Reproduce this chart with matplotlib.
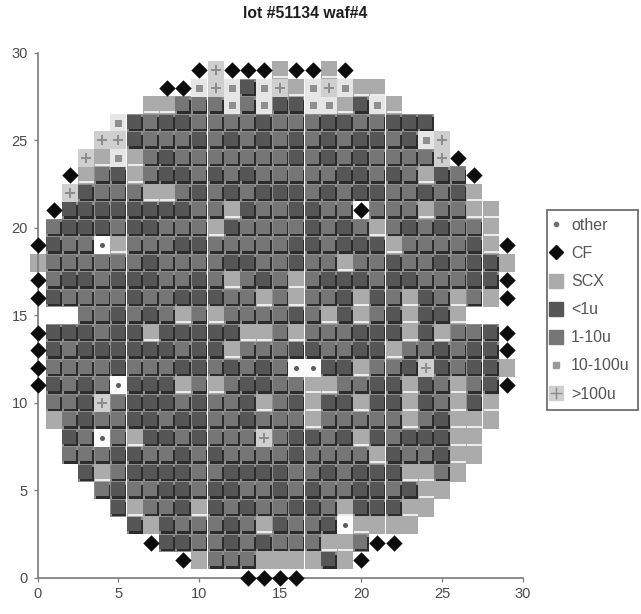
import matplotlib
matplotlib.use("Agg")
import matplotlib.pyplot as plt
from matplotlib.lines import Line2D
from matplotlib.path import Path
from matplotlib.legend_handler import HandlerTuple
from matplotlib.transforms import ScaledTranslation

plt.rcParams['font.family'] = ['Liberation Sans', 'DejaVu Sans']

title = "lot #51134 waf#4"
x_ticks = [0, 5, 10, 15, 20, 25, 30]
y_ticks = [0, 5, 10, 15, 20, 25, 30]
legend_labels = ["other", "CF", "SCX", "<1u", "1-10u", "10-100u", ">100u"]

# wafer map: row y -> first die column, die classes
# o other, D CF, S SCX, L <1u, M 1-10u, X 10-100u, P >100u, Q other+CF
wafer_rows = {
    29: (10, "DPDDDSDDSD"),
    28: (8, "DDXPXLXPSXPXSS"),
    27: (7, "SSMMMXMXLLXXSLXS"),
    26: (5, "XLMLLMMMMLMMMLLMMLLL"),
    25: (4, "PPLMMMLMLMLMLMLMLLMLXP"),
    24: (3, "PSXSMLMMMMMMMLMLMLMMMMPD"),
    23: (2, "DSMLSMLLMLMLMMMMMLLMLMSLMD"),
    22: (2, "PLMMMSSMLMLMLLLMLMLLMMLMLS"),
    21: (1, "DLLLLLLLLMMSLMMLLMMQMMMSMMSS"),
    20: (1, "MLLLMLLMMMSLMMMMLMLMSMLMLMMS"),
    19: (0, "DLMMoSMMMLLMMMMMLLMLLLSMMMMLSD"),
    18: (0, "SMMMMMMLMMMMLLMMLMMSMMLMMLMLLS"),
    17: (0, "DMLLMLLLMMLMSMLMSMLLLMLLMMMLLD"),
    16: (0, "DLMMMMLMMLLLMMSMSMMLSLMSLMSMSD"),
    15: (3, "MMLMLMSMSMMMMLMSLSMLSLLS"),
    14: (0, "DLLLMLLSLLLLLSSMSMMMLLLSLSMMLD"),
    13: (0, "DLMLLLLLLMLLSMMMLLMMLLSMMLMLLD"),
    12: (0, "DMMMMLMMMLLMLMLMooLLSMMLPLMLLS"),
    11: (0, "DLMLMoLLLSMSMLLMMSSMMLLSLMSMLD"),
    10: (1, "MMLPMLLLMLMMLSMLSLLSLLSLMSLS"),
    9: (1, "SMLMMLLMLLMMLMMMSMMMMMSMLSSS"),
    8: (2, "LMoMSLLMLMMMPMLLMLSLMLLLSS"),
    7: (2, "MMMLLMMLMLMMMMLMMMMSLMMLSS"),
    6: (3, "LSMLLLLMMLLLLMMLMLLLSSMS"),
    5: (4, "MLMMLLMLLMMLMLMMLLMLSS"),
    4: (5, "LSMMLSLMLMMLLMSLLLSS"),
    3: (6, "LSLMMMLMSLMMLoSSSS"),
    2: (7, "DLLMMLMLMMMSSMDD"),
    1: (9, "DSMMMSSSSLSD"),
    0: (13, "DDDD"),
}

cells = {}
for row, (first, codes) in wafer_rows.items():
    for i, c in enumerate(codes):
        cells[(first + i, row)] = c


def pts(*kinds):
    p = [k for k, c in cells.items() if c in kinds]
    return [a for a, _ in p], [b for _, b in p]


DPI = 100
fig = plt.figure(figsize=(6.41, 6.14), dpi=DPI)
ax = fig.add_axes([37.5 / 641, (614 - 577.7) / 614, 485.5 / 641, 525 / 614])
ax.set_xlim(0, 30)
ax.set_ylim(0, 30)


def shifted(dx, dy):
    return ax.transData + ScaledTranslation(dx / DPI, dy / DPI, fig.dpi_scale_trans)


def s_of(px):
    return (px * 72 / DPI) ** 2


CELL_W, CELL_H = 16.2, 17.5
r = CELL_W / CELL_H
rect = Path([(-r, -1), (r, -1), (r, 1), (-r, 1), (-r, -1)])
bar = Path([(-1, -0.1), (1, -0.1), (1, 0.1), (-1, 0.1), (-1, -0.1)])
K = dict(linewidths=0, clip_on=False)

C_LOW, C_MID, C_SCX, C_SH, C_GAP = '#565656', '#767676', '#ababab', '#2c2c2c', '#8e8e8e'

# grounds
x, y = pts('L', 'M')
ax.scatter(x, y, marker=rect, s=s_of(CELL_H), c=C_GAP, zorder=2, **K)
ax.scatter(x, y, marker=rect, s=s_of(14.8), c=C_SH, zorder=3,
           transform=shifted(1.0, -1.5), **K)
xl, yl = pts('L')
ax.scatter(xl, yl, marker=rect, s=s_of(14.8), c=C_LOW, zorder=4,
           transform=shifted(-0.7, 0.9), **K)
xm, ym = pts('M')
ax.scatter(xm, ym, marker=rect, s=s_of(14.8), c=C_MID, zorder=4,
           transform=shifted(-0.7, 0.9), **K)

xs, ys = pts('S')
ax.scatter(xs, ys, marker=rect, s=s_of(CELL_H), c=C_SCX, zorder=2, **K)
under = [(a, b) for a, b in zip(xs, ys) if (a, b - 1) in cells and cells[(a, b - 1)] != 'D']
ax.scatter([a for a, _ in under], [b for _, b in under], marker=bar, s=s_of(15),
           c='#ececec', zorder=5, transform=shifted(0, -6.8), **K)

xx, yx = pts('X')
ax.scatter(xx, yx, marker=rect, s=s_of(CELL_H), c='#e6e6e6', zorder=2, **K)
ax.scatter(xx, yx, marker='s', s=s_of(7), c='#8f8f8f', zorder=6, **K)
xp, yp = pts('P')
ax.scatter(xp, yp, marker=rect, s=s_of(CELL_H), c='#cfcfcf', zorder=2, **K)
ax.scatter(xp, yp, marker='+', s=s_of(10), c='#8c8c8c', zorder=6, linewidths=1.4, clip_on=False)
xo, yo = pts('o', 'Q')
ax.scatter(xo, yo, marker=rect, s=s_of(CELL_H), c='#fbfbfb', zorder=6, **K)
ax.scatter(xo, yo, marker='o', s=s_of(5), c='#5a5a5a', zorder=7, **K)
xd, yd = pts('D', 'Q')
ax.scatter(xd, yd, marker='D', s=s_of(11.6), c='#0c0c0c', zorder=8, **K)

# axes
for side in ('top', 'right'):
    ax.spines[side].set_visible(False)
for side in ('left', 'bottom'):
    ax.spines[side].set_color('#7a7a7a')
    ax.spines[side].set_linewidth(1.2)
ax.set_xticks(x_ticks)
ax.set_yticks(y_ticks)
ax.tick_params(length=3, width=0.9, color='#7a7a7a', labelcolor='#4a4a4a',
               labelsize=10.5, pad=4)
fig.text(305 / 641, 1 - 13 / 614, title, ha='center', va='center',
         fontsize=11.3, fontweight='bold', color='#1e1e1e')

# legend
mk = dict(linestyle='none')
h_other = Line2D([], [], marker='o', ms=3, color='#6e6e6e', **mk)
h_cf = Line2D([], [], marker='D', ms=7.5, color='#0c0c0c', **mk)
h_scx = Line2D([], [], marker='s', ms=9.5, color=C_SCX, **mk)
h_low = Line2D([], [], marker='s', ms=9.5, color=C_LOW, **mk)
h_mid = Line2D([], [], marker='s', ms=9.5, color=C_MID, **mk)
h_x = Line2D([], [], marker='s', ms=4, color='#9a9a9a', **mk)
h_p = (Line2D([], [], marker='s', ms=9.5, color='#cfcfcf', **mk),
       Line2D([], [], marker='+', ms=8, color='#8c8c8c', **mk))
leg = fig.legend([h_other, h_cf, h_scx, h_low, h_mid, h_x, h_p], legend_labels,
                 loc='upper left', bbox_to_anchor=(547 / 641, 1 - 210 / 614),
                 frameon=True, fancybox=False, framealpha=1, edgecolor='#707070',
                 fontsize=11.5, labelcolor='#555555', labelspacing=0.82,
                 handlelength=0.12, handletextpad=0.88, borderpad=0.5,
                 borderaxespad=0, handler_map={tuple: HandlerTuple(ndivide=1, pad=0)})
leg.get_frame().set_linewidth(1.3)

fig.savefig("out.png", dpi=DPI)
